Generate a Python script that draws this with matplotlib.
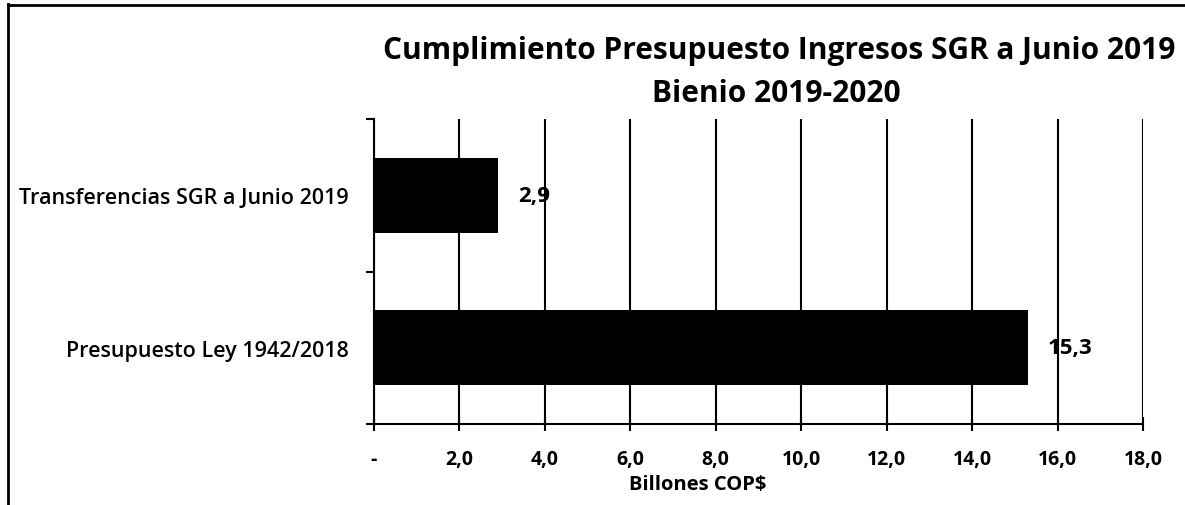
import matplotlib
matplotlib.use("Agg")
import matplotlib.pyplot as plt
from matplotlib.lines import Line2D
from matplotlib.ticker import FuncFormatter, FixedLocator

# datos del grafico
categorias = ["Transferencias SGR a Junio 2019", "Presupuesto Ley 1942/2018"]
valores = [2.9, 15.3]
etiquetas = ["2,9", "15,3"]
x_ticks = [0, 2, 4, 6, 8, 10, 12, 14, 16, 18]

titulo_1 = "Cumplimiento Presupuesto Ingresos SGR a Junio 2019"
titulo_2 = "Bienio 2019-2020"

plt.rcParams['font.family'] = ['Open Sans', 'DejaVu Sans']

W, H = 1185, 506
fig = plt.figure(figsize=(W / 100, H / 100), dpi=100)
ax = fig.add_axes([374 / W, 1 - 425 / H, (1143 - 374) / W, (425 - 120) / H])

pos = list(range(len(categorias)))
ax.barh(pos, valores, height=0.49, color='black', zorder=3)
for p, v, lab in zip(pos, valores, etiquetas):
    ax.annotate(lab, (v, p), xytext=(14.5, 0), textcoords='offset points',
                va='center', ha='left', fontsize=16, fontweight='bold', zorder=4)

ax.set_xlim(0, 18)
ax.set_ylim(1.5, -0.5)
ax.set_yticks(pos)
ax.set_yticklabels(categorias, fontsize=15.5, fontweight='semibold')
ax.yaxis.set_minor_locator(FixedLocator([-0.5, 0.5, 1.5]))
ax.tick_params(axis='y', which='major', length=0, pad=18)
ax.tick_params(axis='y', which='minor', length=6, width=1.5)

ax.set_xticks(x_ticks)
ax.xaxis.set_major_formatter(FuncFormatter(
    lambda x, _: "-" if x == 0 else f"{x:.1f}".replace(".", ",")))
ax.tick_params(axis='x', direction='inout', length=10, width=1.5, pad=13,
               labelsize=14)
for t in ax.get_xticklabels():
    t.set_fontweight('bold')

# etiqueta del eje x (en el original esta corrida a la izquierda)
ax.text(0.421, -0.197, "Billones COP$", transform=ax.transAxes, ha='center',
        va='center', fontsize=14.5, fontweight='bold')

ax.grid(axis='x', color='black', linewidth=1.5, zorder=0)
ax.spines['top'].set_visible(False)
ax.spines['right'].set_visible(False)
ax.spines['left'].set_linewidth(1.5)
ax.spines['bottom'].set_linewidth(1.5)

fig.text(779 / W, 1 - 51 / H, titulo_1, ha='center', va='center',
         fontsize=21.5, fontweight='bold')
fig.text(776 / W, 1 - 94 / H, titulo_2, ha='center', va='center',
         fontsize=21.5, fontweight='bold')

# marco exterior (solo borde izquierdo y superior visibles)
fig.add_artist(Line2D([8 / W, 8 / W], [0, 1 - 5 / H], color='black',
                      linewidth=2, transform=fig.transFigure))
fig.add_artist(Line2D([8 / W, 1], [1 - 6 / H, 1 - 6 / H], color='black',
                      linewidth=2, transform=fig.transFigure))

fig.savefig("out.png", dpi=100)
